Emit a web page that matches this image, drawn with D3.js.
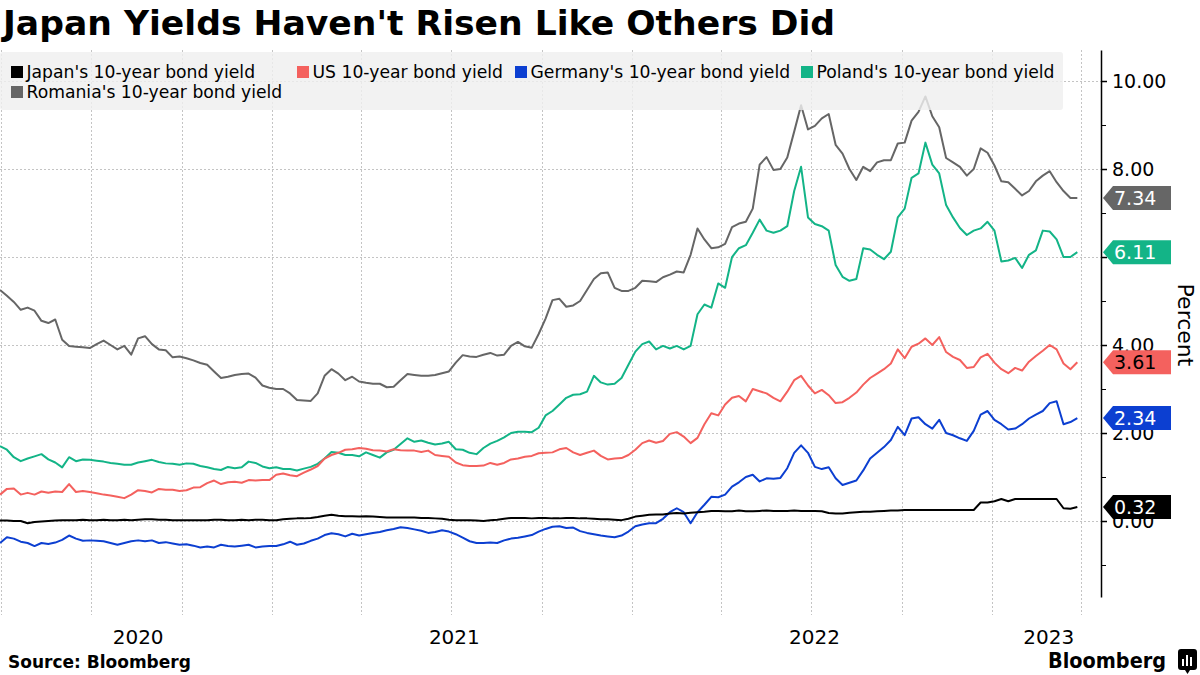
<!DOCTYPE html>
<html><head><meta charset="utf-8">
<script src="https://cdn.jsdelivr.net/npm/d3@7"></script>
<style>
body{margin:0;background:#fff;}
svg{display:block;font-family:"DejaVu Sans",sans-serif;}
</style>
</head><body>
<svg id="chart" width="1200" height="675"></svg>
<script>
// ---- data (weekly observations, starting 2020-03-31) ----
const startDate = "2020-03-31";
const seriesNames = ["Japan's 10-year bond yield","US 10-year bond yield","Germany's 10-year bond yield","Poland's 10-year bond yield","Romania's 10-year bond yield"];
const seriesColors = ["#000000","#f4615e","#0c3fd1","#13b487","#666666"];
const tagTextColors = ["#ffffff","#000000","#ffffff","#ffffff","#ffffff"];

const japan = [0.01,0.01,0.0,0.0,-0.05,-0.02,-0.01,0.0,0.01,0.02,
0.02,0.02,0.03,0.02,0.02,0.03,0.02,0.02,0.03,0.02,
0.03,0.04,0.04,0.03,0.03,0.02,0.02,0.02,0.02,0.02,
0.02,0.03,0.03,0.02,0.02,0.03,0.02,0.03,0.03,0.02,
0.02,0.04,0.05,0.06,0.06,0.07,0.09,0.12,0.14,0.12,
0.11,0.11,0.1,0.11,0.1,0.09,0.08,0.08,0.08,0.08,
0.08,0.07,0.07,0.06,0.05,0.03,0.02,0.02,0.02,0.01,
0.0,0.02,0.03,0.05,0.07,0.07,0.07,0.06,0.07,0.07,
0.06,0.06,0.07,0.07,0.06,0.06,0.05,0.04,0.04,0.03,
0.02,0.05,0.1,0.12,0.14,0.15,0.15,0.17,0.18,0.17,
0.19,0.2,0.21,0.23,0.23,0.22,0.22,0.24,0.22,0.22,
0.23,0.24,0.23,0.23,0.23,0.24,0.23,0.23,0.23,0.22,
0.18,0.17,0.17,0.19,0.2,0.21,0.21,0.22,0.23,0.24,
0.24,0.25,0.25,0.25,0.25,0.25,0.25,0.25,0.25,0.25,
0.25,0.25,0.42,0.42,0.45,0.5,0.45,0.5,0.5,0.5,
0.5,0.5,0.5,0.5,0.29,0.28,0.32];

const us = [0.6,0.73,0.74,0.6,0.64,0.6,0.67,0.64,0.67,0.66,
0.84,0.66,0.68,0.66,0.63,0.6,0.58,0.55,0.52,0.6,
0.7,0.68,0.65,0.73,0.71,0.71,0.68,0.7,0.76,0.77,
0.86,0.92,0.84,0.88,0.89,0.87,0.93,0.92,0.93,0.93,
1.05,1.08,1.04,1.02,1.1,1.17,1.25,1.42,1.5,1.55,
1.62,1.63,1.66,1.64,1.61,1.6,1.58,1.63,1.61,1.6,
1.6,1.57,1.6,1.5,1.48,1.46,1.33,1.27,1.25,1.25,
1.26,1.32,1.28,1.32,1.4,1.42,1.46,1.48,1.54,1.55,
1.56,1.63,1.66,1.56,1.5,1.55,1.6,1.48,1.4,1.42,
1.43,1.5,1.62,1.77,1.83,1.78,1.82,1.98,2.02,1.92,
1.77,1.89,2.2,2.45,2.4,2.65,2.8,2.84,2.72,3.0,
2.95,2.9,2.8,2.72,2.94,3.2,3.3,3.08,2.9,2.98,
2.86,2.68,2.7,2.8,2.92,3.1,3.25,3.35,3.45,3.58,
3.9,3.7,3.96,4.03,4.15,4.0,4.18,3.84,3.73,3.66,
3.48,3.5,3.72,3.8,3.6,3.45,3.36,3.48,3.42,3.62,
3.75,3.87,4.0,3.9,3.58,3.45,3.61];

const germany = [-0.5,-0.37,-0.4,-0.47,-0.5,-0.57,-0.5,-0.52,-0.49,-0.43,
-0.33,-0.4,-0.45,-0.44,-0.45,-0.46,-0.5,-0.54,-0.5,-0.46,
-0.44,-0.46,-0.44,-0.5,-0.48,-0.51,-0.54,-0.53,-0.56,-0.6,
-0.58,-0.6,-0.54,-0.57,-0.58,-0.56,-0.54,-0.6,-0.58,-0.57,
-0.57,-0.53,-0.47,-0.54,-0.51,-0.45,-0.4,-0.32,-0.28,-0.3,
-0.35,-0.29,-0.33,-0.3,-0.27,-0.25,-0.21,-0.18,-0.14,-0.16,
-0.19,-0.22,-0.27,-0.25,-0.21,-0.24,-0.3,-0.38,-0.46,-0.5,
-0.5,-0.49,-0.5,-0.44,-0.4,-0.38,-0.35,-0.32,-0.24,-0.18,
-0.13,-0.12,-0.16,-0.15,-0.23,-0.27,-0.3,-0.33,-0.35,-0.37,
-0.33,-0.24,-0.12,-0.08,-0.05,-0.05,0.05,0.2,0.29,0.2,
-0.05,0.2,0.37,0.55,0.54,0.6,0.78,0.88,1.0,1.05,
0.9,0.97,0.96,0.98,1.2,1.55,1.72,1.55,1.23,1.18,
1.22,0.97,0.82,0.87,0.92,1.15,1.42,1.55,1.68,1.84,
2.14,1.95,2.33,2.36,2.2,2.1,2.3,2.0,1.95,1.88,
1.82,2.05,2.42,2.5,2.3,2.2,2.08,2.1,2.2,2.33,
2.42,2.5,2.68,2.72,2.2,2.25,2.34];

const poland = [1.7,1.62,1.45,1.36,1.42,1.47,1.52,1.4,1.33,1.22,
1.45,1.36,1.4,1.39,1.37,1.35,1.32,1.3,1.28,1.28,
1.33,1.36,1.39,1.34,1.31,1.3,1.28,1.31,1.3,1.25,
1.22,1.18,1.16,1.23,1.2,1.22,1.35,1.32,1.24,1.2,
1.22,1.18,1.18,1.15,1.19,1.23,1.3,1.42,1.57,1.55,
1.5,1.5,1.47,1.56,1.5,1.44,1.56,1.62,1.75,1.88,
1.8,1.83,1.78,1.74,1.76,1.8,1.63,1.62,1.55,1.52,
1.66,1.76,1.82,1.9,2.0,2.03,2.03,2.02,2.12,2.4,
2.5,2.65,2.8,2.87,2.88,2.94,3.3,3.15,3.1,3.12,
3.25,3.55,3.85,4.02,4.08,3.9,3.98,3.92,3.98,3.9,
3.98,4.7,4.92,4.85,5.4,5.3,6.0,6.2,6.27,6.55,
6.85,6.6,6.55,6.6,6.7,7.5,8.05,6.9,6.75,6.7,
6.6,5.82,5.55,5.46,5.5,6.2,6.17,6.05,5.95,6.12,
6.9,7.1,7.8,7.9,8.6,8.1,7.9,7.18,6.9,6.66,
6.5,6.6,6.65,6.8,6.6,5.9,5.92,5.98,5.75,6.05,
6.15,6.6,6.58,6.4,6.0,6.0,6.11];

const romania = [5.25,5.12,4.98,4.8,4.85,4.78,4.55,4.5,4.58,4.12,
3.98,3.96,3.95,3.93,4.02,4.1,4.0,3.9,3.98,3.78,
4.15,4.2,4.02,3.9,3.88,3.72,3.74,3.7,3.65,3.59,
3.55,3.4,3.25,3.28,3.32,3.34,3.35,3.26,3.08,3.03,
3.0,3.0,2.9,2.75,2.74,2.73,2.9,3.3,3.45,3.35,
3.2,3.28,3.17,3.14,3.12,3.12,3.04,3.05,3.2,3.34,
3.32,3.3,3.3,3.32,3.36,3.4,3.6,3.77,3.74,3.73,
3.78,3.82,3.76,3.78,3.98,4.07,3.97,3.94,4.25,4.6,
5.02,5.05,4.87,4.9,5.0,5.25,5.5,5.63,5.65,5.3,
5.23,5.23,5.3,5.46,5.45,5.43,5.54,5.6,5.67,5.65,
6.05,6.65,6.4,6.2,6.22,6.3,6.68,6.76,6.8,7.1,
8.1,8.27,7.98,8.0,8.26,8.85,9.45,8.9,8.98,9.15,
9.25,8.55,8.35,8.0,7.75,8.05,7.95,8.15,8.2,8.2,
8.58,8.6,9.1,9.3,9.65,9.2,8.95,8.25,8.15,8.05,
7.85,8.0,8.47,8.37,8.08,7.72,7.7,7.55,7.4,7.5,
7.72,7.85,7.95,7.7,7.5,7.34,7.34];

const yTicks = [0,2,4,6,8,10];
const yMinorTicks = [-1,1,3,5,7,9];
const yearLabels = ["2020","2021","2022","2023"];

// ---- build ----
const seriesValues = [japan, us, germany, poland, romania];
const parse = d3.timeParse("%Y-%m-%d");
const t0 = parse(startDate);
const dates = d3.range(japan.length).map(i => d3.timeDay.offset(t0, 7*i));

const svg = d3.select("#chart");
const axisX = 1101, plotTop = 50, plotBottom = 597;

const x = d3.scaleTime()
  .domain([parse("2020-03-31"), parse("2023-04-21")])
  .range([0, axisX]);
const y = d3.scaleLinear().domain([-1.727, 10.705]).range([plotBottom, plotTop]);

// gridlines
const grid = svg.append("g").attr("stroke","#c4c4c4").attr("stroke-dasharray","2,2").attr("stroke-width",1);
grid.selectAll("line.h").data(yTicks).join("line")
  .attr("x1",0).attr("x2",axisX).attr("y1",d=>Math.round(y(d))+0.5).attr("y2",d=>Math.round(y(d))+0.5);
const quarters = d3.timeMonth.every(3).range(x.domain()[0], x.domain()[1]);
grid.selectAll("line.v").data(quarters).join("line")
  .attr("x1",d=>Math.round(x(d))+0.5).attr("x2",d=>Math.round(x(d))+0.5)
  .attr("y1",plotTop).attr("y2",plotBottom+18);

// lines
const line = d3.line().x((d,i)=>x(dates[i])).y(d=>y(d));
const drawOrder = [4,3,2,1,0];
svg.append("g").selectAll("path").data(drawOrder).join("path")
  .attr("fill","none").attr("stroke",k=>seriesColors[k]).attr("stroke-width",2)
  .attr("stroke-linejoin","round")
  .attr("d",k=>line(seriesValues[k]));

// legend
const lg = svg.append("g");
lg.append("rect").attr("x",0).attr("y",52).attr("width",1063).attr("height",58)
  .attr("rx",3).attr("fill","#efefef").attr("fill-opacity",0.82);
const legendPos = [[11,0],[297,0],[515,0],[801,0],[11,1]];
const items = lg.selectAll("g.item").data(seriesNames).join("g")
  .attr("transform",(d,i)=>`translate(${legendPos[i][0]},${72+legendPos[i][1]*20})`);
items.append("rect").attr("x",0).attr("y",-6).attr("width",12).attr("height",12)
  .attr("fill",(d,i)=>seriesColors[i]);
items.append("text").attr("x",15.5).attr("y",6).attr("font-size",17.2).attr("fill","#000").text(d=>d);

// y axis
const yAxis = d3.axisRight(y).tickValues(yTicks).tickFormat(d3.format(".2f")).tickSize(6).tickSizeOuter(0).tickPadding(5);
const ga = svg.append("g").attr("transform",`translate(${axisX},0)`).call(yAxis);
ga.select(".domain").attr("stroke","#000").attr("stroke-width",1.5);
ga.selectAll(".tick line").attr("stroke","#000").attr("stroke-width",1.5);
ga.selectAll(".tick text").attr("font-size",19).attr("font-family","DejaVu Sans").attr("fill","#000");
const yMinor = d3.axisRight(y).tickValues(yMinorTicks).tickFormat("").tickSize(5).tickSizeOuter(0);
const gm = svg.append("g").attr("transform",`translate(${axisX},0)`).call(yMinor);
gm.select(".domain").remove();
gm.selectAll(".tick line").attr("stroke","#000").attr("stroke-width",1);

// Percent title
svg.append("text").attr("transform",`translate(1178,325) rotate(90)`)
  .attr("text-anchor","middle").attr("font-size",22).attr("fill","#000").text("Percent");

// last value tags
const tags = svg.append("g").selectAll("g").data(d3.range(5)).join("g")
  .attr("transform",k=>{const v=seriesValues[k]; return `translate(${axisX+2},${y(v[v.length-1])})`;});
tags.append("path").attr("d","M0,0 L10,-12 L68,-12 L68,12 L10,12 Z")
  .attr("fill",k=>seriesColors[k]).attr("stroke","none");
tags.append("text").attr("x",11).attr("y",7).attr("font-size",19)
  .attr("fill",k=>tagTextColors[k])
  .text(k=>{const v=seriesValues[k]; return d3.format(".2f")(v[v.length-1]);});

// year labels centred in each year's visible span
const xd = x.domain();
svg.append("g").selectAll("text").data(yearLabels).join("text")
  .attr("x",d=>{
    const a = d3.max([parse(d+"-01-01"), xd[0]]);
    const b = d3.min([parse((+d+1)+"-01-01"), xd[1]]);
    return (x(a)+x(b))/2 + 2;
  })
  .attr("y",644).attr("text-anchor","middle").attr("font-size",20).attr("fill","#000").text(d=>d);

// title
svg.append("text").attr("x",3).attr("y",35).attr("font-size",34.6).attr("font-weight","bold")
  .attr("fill","#000").text("Japan Yields Haven't Risen Like Others Did");

// footer
svg.append("text").attr("x",8).attr("y",668).attr("font-size",17).attr("font-weight","bold")
  .attr("fill","#000").text("Source: Bloomberg");
svg.append("text").attr("x",1048).attr("y",668).attr("font-size",22).attr("font-weight","bold")
  .attr("textLength",118).attr("lengthAdjust","spacingAndGlyphs")
  .attr("fill","#000").text("Bloomberg");
const icon = svg.append("g").attr("transform","translate(1178,649)");
icon.append("path").attr("d","M3,0 H16 Q19,0 19,3 V18 Q19,21 16,21 H12 L9.5,25 L7,21 H3 Q0,21 0,18 V3 Q0,0 3,0 Z").attr("fill","#000");
icon.selectAll("rect").data([[4,10,2,7],[8,6,2,11],[12,8,2,9]]).join("rect")
  .attr("x",d=>d[0]).attr("y",d=>d[1]).attr("width",d=>d[2]).attr("height",d=>d[3]).attr("fill","#fff");
</script>
</body></html>
